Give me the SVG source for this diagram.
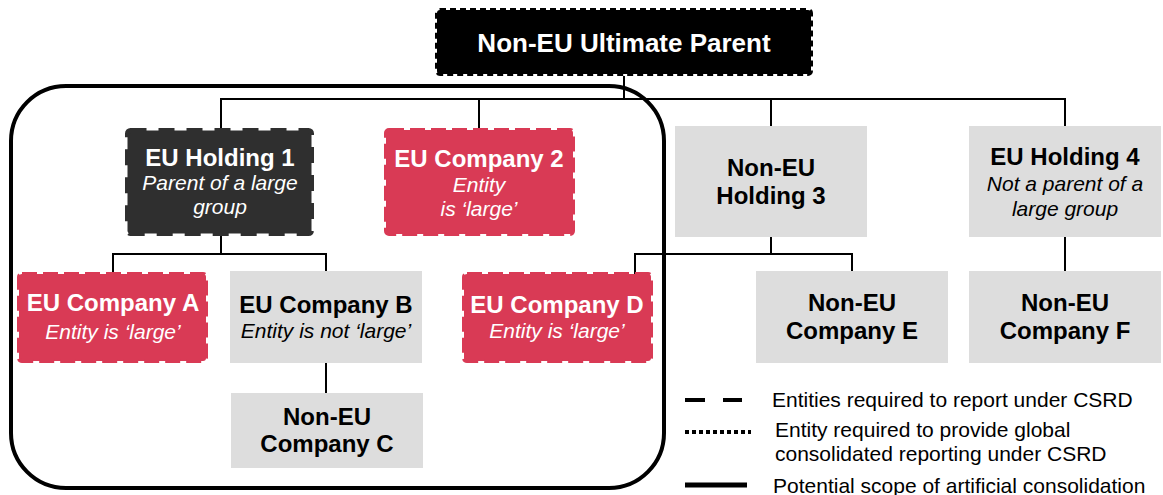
<svg xmlns="http://www.w3.org/2000/svg" width="1163" height="495" viewBox="0 0 1163 495">
<style>
text{font-family:"Liberation Sans",Arial,sans-serif;text-anchor:middle}
.t{font-size:24px;font-weight:bold}
.i{font-size:21px;font-style:italic}
.w{fill:#ffffff}
.k{fill:#000000}
.red{fill:#d93a55;stroke:#d93a55;stroke-width:4;stroke-dasharray:15 6}
.dark{fill:#2f2f2f;stroke:#2f2f2f;stroke-width:5;stroke-dasharray:16 12}
.grey{fill:#dddddd}
.conn line{stroke:#000;stroke-width:2}
.leg{font-size:21px;text-anchor:start;fill:#000}
</style>
<rect id="scope" x="11" y="86" width="653" height="402" rx="55" ry="55" fill="none" stroke="#000" stroke-width="4"/>
<g class="conn">
<line x1="624" y1="76" x2="624" y2="99"/>
<line x1="220" y1="99" x2="1066" y2="99"/>
<line x1="221" y1="99" x2="221" y2="129"/>
<line x1="479" y1="99" x2="479" y2="129"/>
<line x1="771" y1="99" x2="771" y2="127"/>
<line x1="1065" y1="99" x2="1065" y2="127"/>
<line x1="221" y1="234" x2="221" y2="254"/>
<line x1="112" y1="254" x2="327" y2="254"/>
<line x1="113" y1="254" x2="113" y2="274"/>
<line x1="326" y1="254" x2="326" y2="271"/>
<line x1="326" y1="363" x2="326" y2="393"/>
<line x1="771" y1="237" x2="771" y2="254"/>
<line x1="634" y1="254" x2="853" y2="254"/>
<line x1="635" y1="254" x2="635" y2="274"/>
<line x1="852" y1="254" x2="852" y2="271"/>
<line x1="1065" y1="237" x2="1065" y2="271"/>
</g>
<g id="ultimate-parent">
<rect x="437" y="10" width="374" height="64" rx="3" fill="#000" stroke="#000" stroke-width="4" stroke-dasharray="6 4"/>
<text class="t w" x="624" y="52" style="font-size:26px">Non-EU Ultimate Parent</text>
</g>
<g id="eu-holding-1">
<rect class="dark" x="127.5" y="130.5" width="184" height="103" rx="3"/>
<text class="t w" x="220" y="166">EU Holding 1</text>
<text class="i w" x="220" y="190">Parent of a large</text>
<text class="i w" x="220" y="214">group</text>
</g>
<g id="eu-company-2">
<rect class="red" x="386" y="130" width="187" height="104" rx="3"/>
<text class="t w" x="479" y="167">EU Company 2</text>
<text class="i w" x="479" y="192">Entity</text>
<text class="i w" x="479" y="216">is ‘large’</text>
</g>
<g id="non-eu-holding-3">
<rect class="grey" x="675" y="126" width="192" height="111"/>
<text class="t k" x="771" y="176">Non-EU</text>
<text class="t k" x="771" y="204">Holding 3</text>
</g>
<g id="eu-holding-4">
<rect class="grey" x="969" y="126" width="192" height="111"/>
<text class="t k" x="1065" y="165">EU Holding 4</text>
<text class="i k" x="1065" y="191">Not a parent of a</text>
<text class="i k" x="1065" y="216">large group</text>
</g>
<g id="eu-company-a">
<rect class="red" x="19" y="274" width="187" height="87" rx="3"/>
<text class="t w" x="113" y="311">EU Company A</text>
<text class="i w" x="113" y="339">Entity is ‘large’</text>
</g>
<g id="eu-company-b">
<rect class="grey" x="230" y="271" width="192" height="92"/>
<text class="t k" x="326" y="313">EU Company B</text>
<text class="i k" x="326" y="338">Entity is not ‘large’</text>
</g>
<g id="non-eu-company-c">
<rect class="grey" x="231" y="393" width="192" height="75"/>
<text class="t k" x="327" y="425">Non-EU</text>
<text class="t k" x="327" y="452">Company C</text>
</g>
<g id="eu-company-d">
<rect class="red" x="464" y="274" width="187" height="87" rx="3"/>
<text class="t w" x="557" y="313">EU Company D</text>
<text class="i w" x="557" y="338">Entity is ‘large’</text>
</g>
<g id="non-eu-company-e">
<rect class="grey" x="756" y="271" width="192" height="92"/>
<text class="t k" x="852" y="311">Non-EU</text>
<text class="t k" x="852" y="339">Company E</text>
</g>
<g id="non-eu-company-f">
<rect class="grey" x="969" y="271" width="192" height="92"/>
<text class="t k" x="1065" y="311">Non-EU</text>
<text class="t k" x="1065" y="339">Company F</text>
</g>
<g id="legend">
<line x1="685" y1="400" x2="742" y2="400" stroke="#000" stroke-width="4" stroke-dasharray="20 18"/>
<text class="leg" x="772" y="407">Entities required to report under CSRD</text>
<line x1="685" y1="432" x2="751" y2="432" stroke="#000" stroke-width="4" stroke-dasharray="4 3"/>
<text class="leg" x="775" y="437">Entity required to provide global</text>
<text class="leg" x="775" y="461">consolidated reporting under CSRD</text>
<line x1="685" y1="485" x2="747" y2="485" stroke="#000" stroke-width="5"/>
<text class="leg" x="773" y="493">Potential scope of artificial consolidation</text>
</g>
</svg>
